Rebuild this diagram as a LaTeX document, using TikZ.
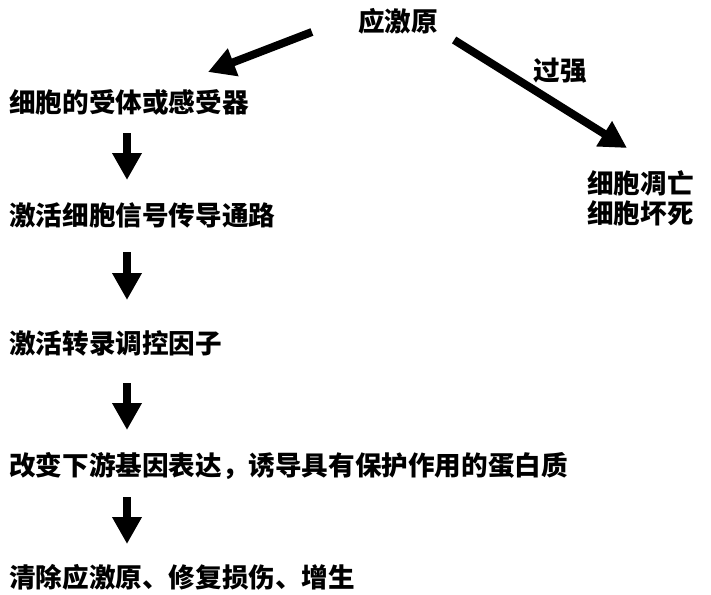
\documentclass[tikz,border=0pt]{standalone}
\usepackage{fontspec}
\newfontfamily\cjk{Noto Sans CJK SC}
\usetikzlibrary{arrows.meta,calc}
\tikzset{
  lbl/.style={inner sep=0pt, font=\cjk\bfseries\fontsize{26.6}{30}\selectfont},
  arr/.style={line width=8pt, -{Triangle[length=27pt,width=28pt]}},
}
\begin{document}
\begin{tikzpicture}[x=1pt,y=1pt]
\useasboundingbox (0,0) rectangle (711,-594);
\node[lbl, anchor=base] (top) at (398,-32) {应激原};
\node[lbl, anchor=base west] (n1) at (9,-112) {细胞的受体或感受器};
\node[lbl, anchor=base west] (n2) at (9,-225) {激活细胞信号传导通路};
\node[lbl, anchor=base west] (n3) at (9,-353) {激活转录调控因子};
\node[lbl, anchor=base west] (n4) at (9,-475) {改变下游基因表达，诱导具有保护作用的蛋白质};
\node[lbl, anchor=base west] (n5) at (9,-587) {清除应激原、修复损伤、增生};
\node[lbl, anchor=base] (gq) at (560,-80) {过强};
\node[lbl, anchor=base west] (n6) at (587,-193) {细胞凋亡};
\node[lbl, anchor=base west] (n7) at (587,-223) {细胞坏死};
\draw[arr] ($(top.base west)+(-46,0)$) -- ($(n1.base west)+(199,40)$);
\draw[arr] ($(top.base east)+(16,-8)$) -- ($(n6.base west)+(40,45)$);
\draw[arr] ($(n1.base west)+(118,-21)$) -- ($(n2.base west)+(118,45)$);
\draw[arr] ($(n2.base west)+(118,-27)$) -- ($(n3.base west)+(118,53)$);
\draw[arr] ($(n3.base west)+(118,-30)$) -- ($(n4.base west)+(118,45)$);
\draw[arr] ($(n4.base west)+(118,-22)$) -- ($(n5.base west)+(118,43)$);
\end{tikzpicture}
\end{document}
